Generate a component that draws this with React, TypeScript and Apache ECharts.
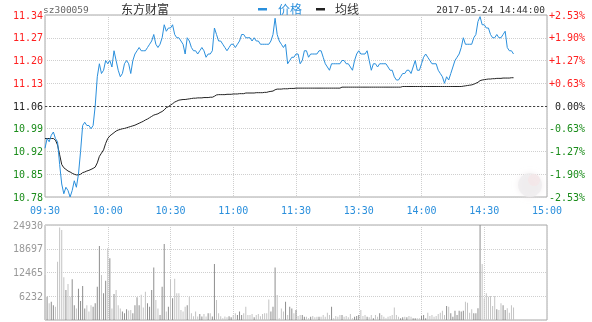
import React, { useEffect, useRef } from "react";
import * as echarts from "echarts";

const stockCode = "sz300059";
const stockName = "东方财富";
const timeStamp = "2017-05-24 14:44:00";
const legendNames = ["价格", "均线"];
const prevClose = 11.06;
const priceMin = 10.78;
const priceMax = 11.34;
const priceStep = 0.07;
const volMax = 24930;
const volStep = 6232.5;

// minute categories 09:30..11:30, 13:01..15:00
const minutes: string[] = [];
for (let m = 0; m <= 240; m++) {
  const t = m <= 120 ? 570 + m : 780 + (m - 120);
  const h = Math.floor(t / 60);
  const mm = t % 60;
  minutes.push(String(h).padStart(2, "0") + ":" + String(mm).padStart(2, "0"));
}

const priceData = [
  10.93, 10.96, 10.95, 10.97, 10.98, 10.96, 10.95, 10.88, 10.82, 10.79,
  10.81, 10.80, 10.78, 10.80, 10.83, 10.81, 10.85, 10.92, 11.00, 11.01,
  11.00, 11.00, 10.99, 11.00, 11.06, 11.15, 11.19, 11.16, 11.17, 11.20,
  11.19, 11.20, 11.18, 11.23, 11.20, 11.17, 11.15, 11.16, 11.19, 11.20,
  11.19, 11.16, 11.20, 11.22, 11.23, 11.24, 11.23, 11.23, 11.23, 11.24,
  11.25, 11.26, 11.28, 11.25, 11.24, 11.25, 11.27, 11.31, 11.29, 11.30,
  11.30, 11.31, 11.28, 11.27, 11.27, 11.26, 11.25, 11.22, 11.27, 11.26,
  11.24, 11.23, 11.23, 11.22, 11.23, 11.24, 11.23, 11.21, 11.22, 11.22,
  11.23, 11.30, 11.28, 11.26, 11.26, 11.25, 11.24, 11.23, 11.24, 11.25,
  11.25, 11.24, 11.25, 11.26, 11.28, 11.28, 11.27, 11.27, 11.27, 11.26,
  11.27, 11.26, 11.26, 11.25, 11.25, 11.25, 11.25, 11.25, 11.26, 11.28,
  11.33, 11.28, 11.26, 11.25, 11.24, 11.25, 11.19, 11.20, 11.21, 11.21,
  11.22,
  11.22, 11.19, 11.20, 11.23, 11.23, 11.21, 11.22, 11.22, 11.22,
  11.22, 11.23, 11.23, 11.21, 11.19, 11.18, 11.17, 11.19, 11.19, 11.19,
  11.19, 11.19, 11.20, 11.20, 11.19, 11.19, 11.18, 11.17, 11.20, 11.22,
  11.23, 11.22, 11.22, 11.22, 11.23, 11.20, 11.17, 11.19, 11.19, 11.18,
  11.19, 11.19, 11.19, 11.19, 11.18, 11.17, 11.17, 11.15, 11.14, 11.14,
  11.15, 11.16, 11.16, 11.17, 11.17, 11.16, 11.18, 11.20, 11.17, 11.17,
  11.19, 11.21, 11.22, 11.21, 11.20, 11.19, 11.19, 11.19, 11.17, 11.16,
  11.15, 11.13, 11.15, 11.14, 11.16, 11.18, 11.20, 11.21, 11.22, 11.24,
  11.27, 11.25, 11.25, 11.25, 11.25, 11.27, 11.28, 11.32, 11.335, 11.31,
  11.31, 11.30, 11.30, 11.28, 11.27, 11.27, 11.28, 11.27, 11.27, 11.28,
  11.29, 11.24, 11.23, 11.23, 11.22,
];

const avgData = [
  10.96, 10.96, 10.96, 10.96, 10.96, 10.955, 10.94, 10.91, 10.88, 10.87,
  10.865, 10.86, 10.857, 10.853, 10.85, 10.848, 10.848, 10.85, 10.855, 10.857,
  10.86, 10.862, 10.865, 10.868, 10.872, 10.885, 10.905, 10.915, 10.925, 10.945,
  10.96, 10.968, 10.973, 10.978, 10.983, 10.986, 10.988, 10.99, 10.991, 10.993,
  10.995, 10.997, 10.999, 11.001, 11.004, 11.007, 11.01, 11.013, 11.017, 11.02,
  11.024, 11.028, 11.032, 11.034, 11.036, 11.04, 11.043, 11.048, 11.055, 11.058,
  11.063, 11.067, 11.072, 11.075, 11.078, 11.079, 11.08, 11.08, 11.081, 11.082,
  11.083, 11.084, 11.084, 11.085, 11.085, 11.085, 11.086, 11.086, 11.086, 11.087,
  11.087, 11.09, 11.094, 11.095, 11.095, 11.095, 11.095, 11.096, 11.096, 11.096,
  11.097, 11.097, 11.097, 11.098, 11.098, 11.098, 11.1, 11.1, 11.1, 11.1,
  11.1, 11.101, 11.101, 11.101, 11.101, 11.102, 11.102, 11.104, 11.105, 11.106,
  11.11, 11.112, 11.112, 11.112, 11.113, 11.113, 11.113, 11.114, 11.114, 11.114,
  11.115,
  11.115, 11.115, 11.115, 11.115, 11.115, 11.115, 11.115, 11.115, 11.115,
  11.115, 11.115, 11.115, 11.115, 11.115, 11.115, 11.115, 11.115, 11.115, 11.115,
  11.115, 11.115, 11.118, 11.118, 11.118, 11.118, 11.118, 11.118, 11.118, 11.118,
  11.118, 11.118, 11.118, 11.118, 11.118, 11.118, 11.118, 11.118, 11.118, 11.118,
  11.118, 11.118, 11.118, 11.118, 11.118, 11.118, 11.118, 11.118, 11.118, 11.118,
  11.118, 11.12, 11.12, 11.12, 11.12, 11.12, 11.12, 11.12, 11.12, 11.12,
  11.12, 11.12, 11.12, 11.12, 11.12, 11.12, 11.12, 11.12, 11.12, 11.12,
  11.12, 11.12, 11.12, 11.12, 11.12, 11.12, 11.12, 11.12, 11.12, 11.12,
  11.121, 11.122, 11.123, 11.124, 11.125, 11.127, 11.13, 11.133, 11.138, 11.14,
  11.141, 11.142, 11.143, 11.143, 11.144, 11.144, 11.145, 11.145, 11.145, 11.146,
  11.146, 11.146, 11.146, 11.147, 11.147,
];

const volData = [
  11800, 6100, 4400, 4800, 3900, 3500, 15300, 24300, 23600, 11200,
  7900, 9450, 6100, 10700, 3900, 3000, 8200, 5000, 8900, 3000,
  3900, 2200, 3900, 3500, 4400, 8750, 19400, 11800, 7000, 10300,
  18800, 16200, 3000, 6800, 7900, 3900, 3000, 2200, 1800, 2800,
  2500, 2600, 1800, 3900, 5950, 3900, 6600, 3300, 7400, 4400,
  3500, 7900, 13800, 5250, 3000, 1300, 8750, 19950, 2200, 3500,
  10700, 5700, 10850, 7000, 7000, 2600, 2200, 3500, 3900, 6100,
  1800, 1000, 2200, 900, 1600, 900, 1600, 900, 1800, 1800,
  900, 14700, 5250, 1800, 1000, 450, 900, 700, 1000, 700,
  1300, 1800, 1300, 2200, 1300, 1800, 3500, 1300, 1300, 1600,
  700, 1300, 1600, 1000, 1600, 1800, 1800, 5400, 2200, 3500,
  13800, 6550, 450, 3000, 2200, 4800, 1300, 3500, 3000, 1800,
  2600,
  1050, 1300, 1300, 875, 875, 440, 875, 1050, 700,
  875, 875, 875, 1300, 875, 1900, 1300, 3500, 440, 1050,
  875, 1300, 1300, 875, 1050, 700, 1575, 440, 875, 1050,
  1300, 2600, 1050, 1300, 875, 700, 1300, 440, 1300, 875,
  1750, 1300, 875, 440, 875, 1050, 1300, 3300, 1300, 875,
  440, 700, 875, 700, 1050, 875, 440, 440, 440, 440,
  1050, 1300, 440, 1900, 1050, 1300, 875, 1050, 1575, 1900,
  2450, 1300, 3700, 3500, 1750, 875, 2450, 1300, 2450, 2200,
  2450, 4800, 4550, 1900, 2800, 1750, 1750, 3060, 24930, 14700,
  5700, 7000, 6100, 6300, 3700, 6300, 2800, 2600, 4400, 3900,
  2600, 3060, 1900, 3900, 3300,
];

const MONO = '"DejaVu Sans Mono", monospace';
const CJK = '"Noto Sans CJK SC", sans-serif';
const BLUE = "#2a8fdc";
const RED = "#ff2020";
const GREEN = "#1a8c1a";

function priceColor(v: string | number) {
  const n = typeof v === "number" ? v : parseFloat(v);
  if (Math.abs(n - prevClose) < 0.001) return "#222";
  return n > prevClose ? RED : GREEN;
}

const timeTick = (i: number) => i % 30 === 0;

export default function App() {
  const ref = useRef<HTMLDivElement>(null);
  useEffect(() => {
    if (!ref.current) return;
    const chart = echarts.init(ref.current, undefined, { renderer: "svg" });
    const splitDotted = { lineStyle: { color: "#cfcfcf", type: "dotted" as const, width: 1 } };
    chart.setOption({
      animation: false,
      grid: [
        { left: 45, right: 45, top: 15, height: 182, show: true, borderColor: "#a8a8a8", borderWidth: 1 },
        { left: 45, right: 45, top: 225, height: 95, show: true, borderColor: "#a8a8a8", borderWidth: 1 },
      ],
      xAxis: [
        {
          type: "category", gridIndex: 0, data: minutes, boundaryGap: false,
          axisLine: { show: false }, axisTick: { show: false },
          axisLabel: { interval: timeTick, color: BLUE, fontSize: 10, fontFamily: MONO, margin: 8 },
          splitLine: { show: true, interval: timeTick, ...splitDotted },
        },
        {
          type: "category", gridIndex: 1, data: minutes, boundaryGap: false,
          axisLine: { show: false }, axisTick: { show: false }, axisLabel: { show: false },
          splitLine: { show: true, interval: timeTick, ...splitDotted },
        },
      ],
      yAxis: [
        {
          type: "value", gridIndex: 0, min: priceMin, max: priceMax, interval: priceStep, position: "left",
          axisLine: { show: false }, axisTick: { show: false },
          axisLabel: {
            formatter: (v: number) => v.toFixed(2), color: priceColor,
            fontSize: 10, fontFamily: MONO, margin: 2,
          },
          splitLine: { show: true, ...splitDotted },
        },
        {
          type: "value", gridIndex: 0, min: priceMin, max: priceMax, interval: priceStep, position: "right",
          axisLine: { show: false }, axisTick: { show: false },
          axisLabel: {
            formatter: (v: number) => {
              const p = ((v - prevClose) / prevClose) * 100;
              if (Math.abs(p) < 0.005) return "0.00%";
              return (p > 0 ? "+" : "") + p.toFixed(2) + "%";
            },
            color: priceColor, fontSize: 10, fontFamily: MONO, margin: 38, align: "right",
          },
          splitLine: { show: false },
        },
        {
          type: "value", gridIndex: 1, min: 0, max: volMax, interval: volStep,
          axisLine: { show: false }, axisTick: { show: false },
          axisLabel: {
            formatter: (v: number) => (v === 0 ? "" : String(Math.floor(v))),
            color: "#999", fontSize: 10, fontFamily: MONO, margin: 2,
          },
          splitLine: { show: true, ...splitDotted },
        },
      ],
      series: [
        {
          name: legendNames[0], type: "line", xAxisIndex: 0, yAxisIndex: 0, data: priceData,
          showSymbol: false, symbol: "none", lineStyle: { color: BLUE, width: 1 }, z: 3,
          markLine: {
            silent: true, symbol: "none", label: { show: false },
            lineStyle: { color: "#444", type: [2, 2], width: 1 },
            data: [{ yAxis: prevClose }],
          },
        },
        {
          name: legendNames[1], type: "line", xAxisIndex: 0, yAxisIndex: 0, data: avgData,
          showSymbol: false, symbol: "none", lineStyle: { color: "#222", width: 1 }, z: 2,
        },
        {
          name: "成交量", type: "bar", xAxisIndex: 1, yAxisIndex: 2, data: volData, barWidth: 1,
          itemStyle: {
            color: (p: any) => {
              const i = p.dataIndex;
              return i > 0 && priceData[i] > priceData[i - 1] ? "#8e8e8e" : "#c4c4c4";
            },
          },
        },
      ],
      graphic: [
        { type: "text", left: 43, top: 4, style: { text: stockCode, fill: "#666", font: "9.5px " + MONO } },
        { type: "text", left: 121, top: 2, style: { text: stockName, fill: "#333", font: "12px " + CJK } },
        { type: "rect", left: 258, top: 8, shape: { width: 9, height: 2.5 }, style: { fill: BLUE } },
        { type: "text", left: 278, top: 2, style: { text: legendNames[0], fill: BLUE, font: "12px " + CJK } },
        { type: "rect", left: 316, top: 8, shape: { width: 9, height: 2.5 }, style: { fill: "#222" } },
        { type: "text", left: 335, top: 2, style: { text: legendNames[1], fill: "#333", font: "12px " + CJK } },
        { type: "text", right: 47, top: 4, style: { text: timeStamp, fill: "#333", font: "9.5px " + MONO } },
        { type: "circle", shape: { cx: 530, cy: 185, r: 12 }, style: { fill: "rgba(238,236,238,0.75)", shadowBlur: 6, shadowColor: "rgba(235,228,230,0.8)" }, z: 10 },
        { type: "circle", shape: { cx: 534, cy: 180, r: 6 }, style: { fill: "rgba(246,228,230,0.6)" }, z: 11 },
      ],
    });
    return () => chart.dispose();
  }, []);
  return <div ref={ref} style={{ position: "fixed", left: 0, top: 0, width: 592, height: 322 }} />;
}
